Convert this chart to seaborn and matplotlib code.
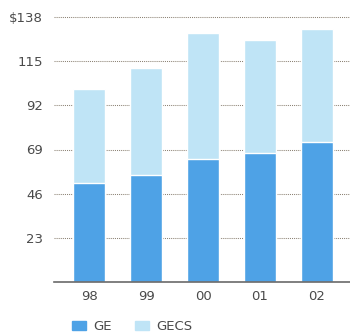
import matplotlib
matplotlib.use("Agg")
import matplotlib.pyplot as plt
import seaborn as sns
import pandas as pd
from matplotlib.patches import Patch

years = ["98", "99", "00", "01", "02"]
ge = [51.5, 55.7, 64.0, 67.2, 72.9]
gecs = [49.0, 55.8, 65.7, 58.8, 58.9]
yticks = [23, 46, 69, 92, 115, 138]
ytick_labels = ["23", "46", "69", "92", "115", "$138"]

total = [a + b for a, b in zip(ge, gecs)]
df = pd.DataFrame({"year": years, "GE": ge, "total": total})

dark = "#4ea2e6"
light = "#bfe4f6"

sns.set_style("white")
plt.rcParams["font.family"] = ["DejaVu Sans"]

fig = plt.figure(figsize=(3.5, 3.35), dpi=100)
ax = fig.add_axes([54/350, 1-282/335, 1-54/350, (282-17)/335])

sns.barplot(data=df, x="year", y="total", color=light, width=0.56, ax=ax, zorder=2, saturation=1)
sns.barplot(data=df, x="year", y="GE", color=dark, width=0.56, ax=ax, zorder=3, saturation=1)

ax.set_xlim(-0.62, 4.58)
ax.set_ylim(0, 138)
ax.set_yticks(yticks)
ax.set_yticklabels(ytick_labels)
for y in yticks:
    ax.axhline(y, color="#8c8274", lw=0.75, ls=(0, (1.0, 1.0)), zorder=1, clip_on=False)

for s in ["top", "right", "left"]:
    ax.spines[s].set_visible(False)
ax.spines["bottom"].set_color("#6a6a6a")
ax.spines["bottom"].set_linewidth(1.2)
ax.spines["bottom"].set_zorder(4)
ax.tick_params(axis="both", length=0, labelsize=9.5, labelcolor="#4a4a4a")
ax.tick_params(axis="y", pad=8)
ax.tick_params(axis="x", pad=6)
ax.set_xlabel("")
ax.set_ylabel("")

handles = [Patch(color=dark, label="GE"), Patch(color=light, label="GECS")]
fig.legend(handles=handles, loc="center left", bbox_to_anchor=(72/350, 1-327/335), ncol=2,
           frameon=False, fontsize=9.5, handlelength=1.06, handleheight=0.68,
           columnspacing=1.8, handletextpad=0.53, labelcolor="#4a4a4a",
           borderpad=0, borderaxespad=0)

fig.savefig("out.png", dpi=100)
